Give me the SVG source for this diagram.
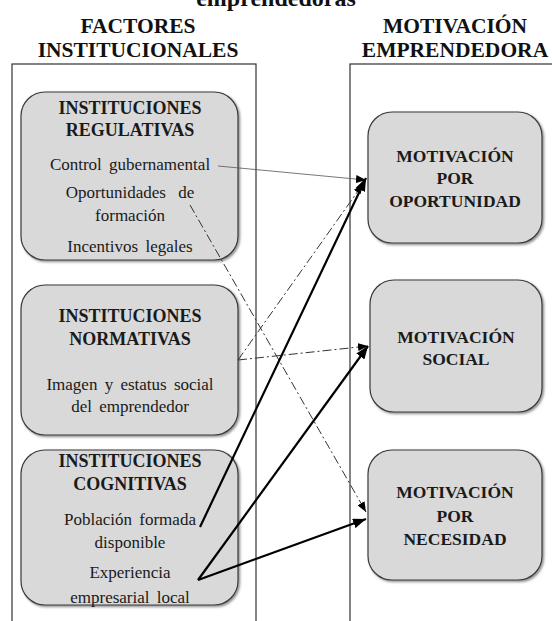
<svg xmlns="http://www.w3.org/2000/svg" width="552" height="621" viewBox="0 0 552 621">
<style>
text{font-family:'Liberation Serif','DejaVu Serif','Times New Roman',serif}
.hd{font-weight:bold;font-size:21.5px;fill:#111;text-anchor:middle}
.tt{font-weight:bold;font-size:18px;fill:#1a1a1a;text-anchor:middle}
.rt{font-weight:bold;font-size:17.5px;fill:#1a1a1a;text-anchor:middle}
.bt{font-size:17px;fill:#1a1a1a;text-anchor:middle;word-spacing:3px}
.cont{fill:#fff;stroke:#333;stroke-width:1.2}
.box{fill:#d9d9d9;stroke:#3a3a3a;stroke-width:1.2;filter:url(#sh)}
.thin{stroke:#555;stroke-width:0.8;fill:none}
.dd{stroke:#333;stroke-width:1;fill:none;stroke-dasharray:9,3,2,3}
.thick{stroke:#000;stroke-width:2.2;fill:none}
</style>
<defs>
<filter id="sh" x="-10%" y="-10%" width="120%" height="120%">
<feDropShadow dx="1.5" dy="1.5" stdDeviation="1" flood-color="#000" flood-opacity="0.45"/>
</filter>
<marker id="aS" markerUnits="userSpaceOnUse" markerWidth="10" markerHeight="8" refX="10" refY="4" orient="auto"><path d="M0,0 L10,4 L0,8 z" fill="#000"/></marker>
<marker id="aL" markerUnits="userSpaceOnUse" markerWidth="13" markerHeight="10" refX="13" refY="5" orient="auto"><path d="M0,0 L13,5 L0,10 z" fill="#000"/></marker>
</defs>
<rect width="552" height="621" fill="#fff"/>
<g font-family="Liberation Serif, DejaVu Serif, serif">
<text class="hd" x="276" y="6" style="font-size:24px">emprendedoras</text>
<text class="hd" x="138" y="33">FACTORES</text>
<text class="hd" x="138" y="57">INSTITUCIONALES</text>
<text class="hd" x="455" y="33">MOTIVACIÓN</text>
<text class="hd" x="455" y="57">EMPRENDEDORA</text>
</g>
<rect class="cont" x="12" y="64" width="244" height="600"/>
<rect class="cont" x="350" y="64" width="250" height="600"/>
<g id="n-regulativas" font-family="Liberation Serif, DejaVu Serif, serif">
<rect class="box" x="21" y="92" width="217" height="168" rx="24"/>
<text class="tt" x="130" y="114">INSTITUCIONES</text>
<text class="tt" x="130" y="136">REGULATIVAS</text>
<text class="bt" x="130" y="170">Control gubernamental</text>
<text class="bt" x="130" y="198" style="word-spacing:8px">Oportunidades de</text>
<text class="bt" x="130" y="221">formación</text>
<text class="bt" x="130" y="252">Incentivos legales</text>
</g>
<g id="n-normativas" font-family="Liberation Serif, DejaVu Serif, serif">
<rect class="box" x="21" y="285" width="217" height="150" rx="24"/>
<text class="tt" x="130" y="322">INSTITUCIONES</text>
<text class="tt" x="130" y="345">NORMATIVAS</text>
<text class="bt" x="130" y="390">Imagen y estatus social</text>
<text class="bt" x="130" y="412">del emprendedor</text>
</g>
<g id="n-cognitivas" font-family="Liberation Serif, DejaVu Serif, serif">
<rect class="box" x="21" y="450" width="217" height="155" rx="24"/>
<text class="tt" x="130" y="467">INSTITUCIONES</text>
<text class="tt" x="130" y="490">COGNITIVAS</text>
<text class="bt" x="130" y="525">Población formada</text>
<text class="bt" x="130" y="548">disponible</text>
<text class="bt" x="130" y="578">Experiencia</text>
<text class="bt" x="130" y="603">empresarial local</text>
</g>
<g id="n-oportunidad" font-family="Liberation Serif, DejaVu Serif, serif">
<rect class="box" x="368" y="112" width="174" height="131" rx="24"/>
<text class="rt" x="455" y="162">MOTIVACIÓN</text>
<text class="rt" x="455" y="184">POR</text>
<text class="rt" x="455" y="207">OPORTUNIDAD</text>
</g>
<g id="n-social" font-family="Liberation Serif, DejaVu Serif, serif">
<rect class="box" x="370" y="280" width="172" height="132" rx="24"/>
<text class="rt" x="456" y="343">MOTIVACIÓN</text>
<text class="rt" x="456" y="365">SOCIAL</text>
</g>
<g id="n-necesidad" font-family="Liberation Serif, DejaVu Serif, serif">
<rect class="box" x="368" y="450" width="174" height="130" rx="24"/>
<text class="rt" x="455" y="498">MOTIVACIÓN</text>
<text class="rt" x="455" y="522">POR</text>
<text class="rt" x="455" y="545">NECESIDAD</text>
</g>
<g id="connectors">
<line class="thin" x1="218" y1="166" x2="366" y2="180" marker-end="url(#aS)"/>
<line class="dd" x1="190" y1="205" x2="366" y2="512" marker-end="url(#aS)"/>
<line class="dd" x1="238" y1="360" x2="363" y2="184" marker-end="url(#aS)"/>
<line class="dd" x1="238" y1="360" x2="368" y2="346" marker-end="url(#aS)"/>
<line class="thick" x1="200" y1="527" x2="366" y2="178" marker-end="url(#aL)"/>
<line class="thick" x1="198" y1="580" x2="368" y2="346" marker-end="url(#aL)"/>
<line class="thick" x1="198" y1="580" x2="366" y2="519" marker-end="url(#aL)"/>
</g>
</svg>
